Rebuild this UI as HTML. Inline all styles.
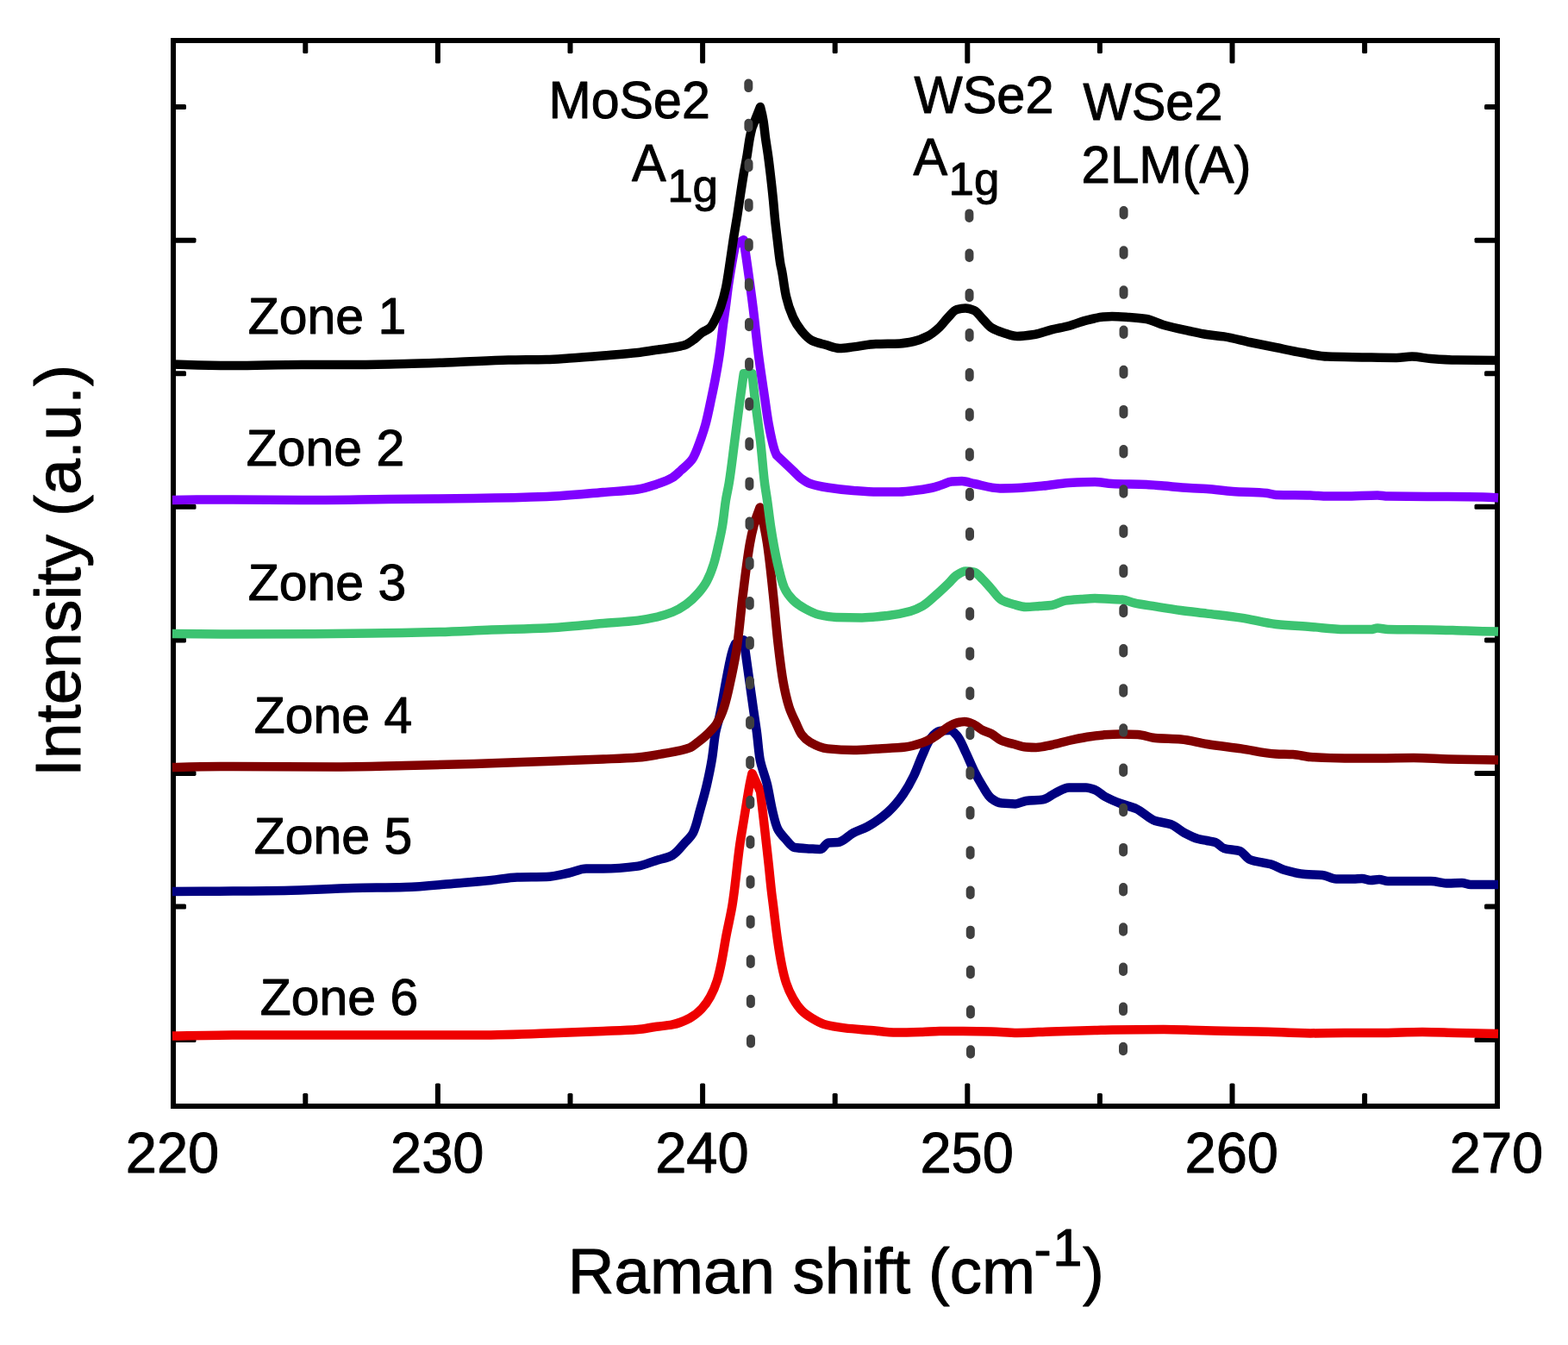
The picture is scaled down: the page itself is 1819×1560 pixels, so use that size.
<!DOCTYPE html>
<html lang="en"><head><meta charset="utf-8"><title>Raman spectra</title>
<style>html,body{margin:0;padding:0;background:#fff}svg{display:block}text{font-family:"Liberation Sans",Arial,Helvetica,sans-serif;fill:#000;stroke:#000;stroke-width:1px;stroke-linejoin:round;font-kerning:none;font-variant-ligatures:none;letter-spacing:0;white-space:pre}</style></head><body>
<svg width="1819" height="1560" viewBox="0 0 1819 1560">
<rect x="0" y="0" width="1819" height="1560" fill="#fff"/>
<g stroke="#000" stroke-width="6" fill="none">
<rect x="201" y="47" width="1536" height="1236"/>
</g>
<g fill="#000" stroke="none">
<rect x="351.30" y="1268.00" width="6" height="15.00" rx="1.6"/>
<rect x="351.30" y="47.00" width="6" height="15.00" rx="1.6"/>
<rect x="504.90" y="1256.50" width="6" height="26.50" rx="1.6"/>
<rect x="504.90" y="47.00" width="6" height="26.50" rx="1.6"/>
<rect x="658.50" y="1268.00" width="6" height="15.00" rx="1.6"/>
<rect x="658.50" y="47.00" width="6" height="15.00" rx="1.6"/>
<rect x="812.10" y="1256.50" width="6" height="26.50" rx="1.6"/>
<rect x="812.10" y="47.00" width="6" height="26.50" rx="1.6"/>
<rect x="965.70" y="1268.00" width="6" height="15.00" rx="1.6"/>
<rect x="965.70" y="47.00" width="6" height="15.00" rx="1.6"/>
<rect x="1119.30" y="1256.50" width="6" height="26.50" rx="1.6"/>
<rect x="1119.30" y="47.00" width="6" height="26.50" rx="1.6"/>
<rect x="1272.90" y="1268.00" width="6" height="15.00" rx="1.6"/>
<rect x="1272.90" y="47.00" width="6" height="15.00" rx="1.6"/>
<rect x="1426.50" y="1256.50" width="6" height="26.50" rx="1.6"/>
<rect x="1426.50" y="47.00" width="6" height="26.50" rx="1.6"/>
<rect x="1580.10" y="1268.00" width="6" height="15.00" rx="1.6"/>
<rect x="1580.10" y="47.00" width="6" height="15.00" rx="1.6"/>
<rect x="201.00" y="1203.10" width="26.50" height="6" rx="1.6"/>
<rect x="1710.50" y="1203.10" width="26.50" height="6" rx="1.6"/>
<rect x="201.00" y="1048.53" width="15.00" height="6" rx="1.6"/>
<rect x="1722.00" y="1048.53" width="15.00" height="6" rx="1.6"/>
<rect x="201.00" y="893.96" width="26.50" height="6" rx="1.6"/>
<rect x="1710.50" y="893.96" width="26.50" height="6" rx="1.6"/>
<rect x="201.00" y="739.39" width="15.00" height="6" rx="1.6"/>
<rect x="1722.00" y="739.39" width="15.00" height="6" rx="1.6"/>
<rect x="201.00" y="584.82" width="26.50" height="6" rx="1.6"/>
<rect x="1710.50" y="584.82" width="26.50" height="6" rx="1.6"/>
<rect x="201.00" y="430.25" width="15.00" height="6" rx="1.6"/>
<rect x="1722.00" y="430.25" width="15.00" height="6" rx="1.6"/>
<rect x="201.00" y="275.68" width="26.50" height="6" rx="1.6"/>
<rect x="1710.50" y="275.68" width="26.50" height="6" rx="1.6"/>
<rect x="201.00" y="121.11" width="15.00" height="6" rx="1.6"/>
<rect x="1722.00" y="121.11" width="15.00" height="6" rx="1.6"/>
</g>
<g fill="none" stroke-width="10.5" stroke-linejoin="round" stroke-linecap="butt">
<path stroke="#ee0000" d="M200.00,1201.50 C223.33,1201.14 246.67,1200.60 270.00,1200.60 C363.33,1200.60 456.68,1200.60 550.00,1200.60 C578.00,1200.60 606.01,1199.44 634.00,1198.60 C656.01,1197.94 678.01,1196.98 700.00,1196.00 C713.34,1195.41 726.74,1195.05 740.00,1194.00 C746.70,1193.47 753.32,1191.93 760.00,1191.00 C766.66,1190.07 773.52,1189.66 780.00,1188.40 C786.85,1187.07 793.94,1184.19 800.00,1181.00 C805.06,1178.34 810.04,1174.17 814.00,1170.00 C817.83,1165.97 821.31,1160.95 824.00,1156.00 C827.22,1150.07 830.00,1143.50 832.00,1137.00 C834.09,1130.19 835.55,1123.04 837.00,1116.00 C839.11,1105.73 840.56,1095.31 842.50,1085.00 C844.70,1073.31 847.59,1061.73 849.50,1050.00 C850.26,1045.35 850.88,1040.67 851.50,1036.00 C853.97,1017.37 855.60,998.61 858.20,980.00 C859.56,970.31 861.33,960.67 862.90,951.00 C864.03,944.00 865.14,937.00 866.30,930.00 C867.41,923.33 868.43,916.64 869.70,910.00 C870.53,905.65 871.49,901.32 872.50,897.00 L882.10,918.00 C882.57,922.00 883.04,926.00 883.50,930.00 C885.43,946.66 887.33,963.33 889.20,980.00 C890.04,987.50 890.89,995.00 891.70,1002.50 C892.90,1013.66 893.90,1024.85 895.20,1036.00 C895.75,1040.67 896.41,1045.33 897.00,1050.00 C898.69,1063.33 900.09,1076.71 902.00,1090.00 C903.44,1100.03 904.99,1110.09 907.00,1120.00 C908.36,1126.72 909.91,1133.53 912.00,1140.00 C914.00,1146.18 916.85,1152.35 920.00,1158.00 C922.75,1162.93 926.12,1168.05 930.00,1172.00 C933.38,1175.44 937.78,1178.44 942.00,1181.00 C946.40,1183.68 951.13,1186.62 956.00,1188.00 C963.59,1190.16 971.95,1191.44 980.00,1192.40 C989.93,1193.59 1000.00,1194.13 1010.00,1195.00 C1020.00,1195.87 1029.98,1197.60 1040.00,1197.60 C1049.98,1197.60 1060.01,1197.29 1070.00,1197.00 C1076.67,1196.80 1083.33,1196.00 1090.00,1196.00 C1109.99,1196.00 1130.02,1196.14 1150.00,1196.40 C1160.01,1196.53 1170.00,1198.00 1180.00,1198.00 C1193.33,1198.00 1206.66,1196.84 1220.00,1196.40 C1236.66,1195.85 1253.33,1195.49 1270.00,1195.00 C1276.67,1194.81 1283.33,1194.48 1290.00,1194.40 C1310.00,1194.16 1330.00,1194.00 1350.00,1194.00 C1363.34,1194.00 1376.67,1194.67 1390.00,1195.00 C1403.33,1195.33 1416.67,1195.77 1430.00,1196.00 C1440.00,1196.17 1450.00,1196.22 1460.00,1196.40 C1480.01,1196.76 1499.99,1198.40 1520.00,1198.40 C1533.33,1198.40 1546.67,1198.00 1560.00,1198.00 C1573.33,1198.00 1586.67,1198.00 1600.00,1198.00 C1616.67,1198.00 1633.33,1197.00 1650.00,1197.00 C1663.33,1197.00 1676.67,1197.70 1690.00,1198.00 C1706.00,1198.36 1722.00,1198.70 1738.00,1199.00"/>
<path stroke="#000080" d="M200.00,1034.00 C223.33,1033.92 246.67,1033.77 270.00,1033.60 C290.00,1033.45 310.01,1033.31 330.00,1033.00 C356.68,1032.59 383.33,1030.60 410.00,1030.00 C429.99,1029.55 450.03,1029.55 470.00,1029.00 C490.03,1028.45 510.01,1026.02 530.00,1024.40 C543.34,1023.32 556.69,1022.34 570.00,1021.00 C580.02,1019.99 589.97,1017.62 600.00,1017.40 C611.29,1017.15 622.75,1017.26 634.00,1017.00 C642.73,1016.80 651.40,1014.27 660.00,1012.50 C666.72,1011.11 673.23,1007.50 680.00,1007.50 C686.57,1007.50 693.34,1007.50 700.00,1007.50 C713.35,1007.50 726.98,1006.26 740.00,1004.60 C746.80,1003.73 753.34,1000.50 760.00,998.40 C766.68,996.30 774.33,994.99 780.00,992.00 C785.35,989.18 789.57,982.87 794.00,978.00 C797.49,974.16 801.83,970.39 804.00,966.00 C807.78,958.35 809.51,948.71 812.00,940.00 C814.85,930.06 817.70,920.07 820.00,910.00 C822.27,900.07 824.39,890.05 826.00,880.00 C827.59,870.05 828.22,859.88 830.00,850.00 C830.97,844.62 832.81,839.36 834.00,834.00 C835.10,829.03 836.04,824.01 837.00,819.00 C839.10,808.02 840.82,796.96 843.00,786.00 C845.13,775.30 846.83,764.31 850.00,754.00 C850.79,751.44 851.98,748.97 853.10,746.50 L862.80,742.30 C864.26,752.87 865.73,763.43 867.20,774.00 C869.52,790.67 871.81,807.34 874.20,824.00 C875.44,832.67 876.87,841.32 878.00,850.00 C879.30,859.98 879.87,870.16 881.50,880.00 C883.19,890.16 887.63,899.90 890.00,910.00 C892.33,919.91 893.64,930.10 896.00,940.00 C897.68,947.06 899.19,954.70 902.00,961.00 C904.11,965.73 908.33,970.04 912.00,974.00 C915.01,977.24 918.21,982.35 922.00,983.00 C927.09,983.87 933.99,984.04 940.00,984.40 C944.00,984.64 948.53,985.00 952.00,985.00 C955.40,985.00 957.59,977.67 961.00,977.40 C964.18,977.15 968.59,977.23 972.00,977.00 C978.53,976.56 983.78,969.17 990.00,966.00 C995.15,963.37 1000.95,961.71 1006.00,959.00 C1014.50,954.43 1022.91,948.44 1030.00,942.00 C1036.67,935.94 1042.82,928.48 1048.00,921.00 C1052.53,914.46 1056.50,907.21 1060.00,900.00 C1063.76,892.25 1066.41,883.87 1070.00,876.00 C1073.09,869.23 1075.65,861.40 1080.00,856.00 C1082.49,852.91 1086.26,848.62 1090.00,848.00 C1093.52,847.42 1098.45,847.00 1102.00,847.00 C1104.95,847.00 1107.97,850.67 1110.00,853.00 C1114.35,858.00 1116.86,865.58 1120.00,872.00 C1123.53,879.23 1126.39,886.82 1130.00,894.00 C1133.07,900.12 1136.36,906.22 1140.00,912.00 C1143.04,916.83 1145.90,922.85 1150.00,926.00 C1153.16,928.42 1157.81,931.20 1162.00,931.60 C1167.07,932.09 1172.77,932.40 1178.00,932.40 C1182.07,932.40 1185.93,929.54 1190.00,929.00 C1196.54,928.14 1203.75,928.34 1210.00,927.40 C1214.93,926.66 1219.23,922.22 1224.00,920.00 C1229.21,917.57 1234.46,913.40 1240.00,913.40 C1246.40,913.40 1253.45,913.40 1260.00,913.40 C1263.38,913.40 1266.91,914.83 1270.00,916.00 C1274.32,917.63 1277.82,921.73 1282.00,924.00 C1287.71,927.10 1293.89,929.67 1300.00,932.00 C1305.89,934.25 1312.33,935.52 1318.00,938.00 C1325.79,941.41 1332.10,949.38 1340.00,952.00 C1345.59,953.85 1352.42,954.11 1358.00,956.00 C1363.71,957.93 1368.46,963.13 1374.00,966.00 C1379.13,968.65 1384.47,971.51 1390.00,973.00 C1393.23,973.87 1396.67,974.33 1400.00,975.00 C1403.33,975.67 1406.96,976.02 1410.00,977.00 C1413.64,978.17 1416.38,982.92 1420.00,984.00 C1425.41,985.61 1432.76,985.38 1438.00,987.00 C1442.48,988.38 1445.57,995.19 1450.00,997.00 C1457.56,1000.09 1467.61,1000.39 1476.00,1003.00 C1480.79,1004.49 1485.20,1007.60 1490.00,1009.00 C1497.73,1011.25 1505.92,1013.36 1514.00,1014.00 C1520.60,1014.52 1527.45,1014.43 1534.00,1015.00 C1539.42,1015.48 1544.57,1019.40 1550.00,1019.40 C1556.54,1019.40 1563.34,1019.40 1570.00,1019.40 C1573.33,1019.40 1576.70,1019.00 1580.00,1019.00 C1583.36,1019.00 1586.64,1021.00 1590.00,1021.00 C1593.31,1021.00 1596.69,1020.00 1600.00,1020.00 C1603.36,1020.00 1606.64,1022.00 1610.00,1022.00 C1626.47,1022.00 1643.41,1022.00 1660.00,1022.00 C1666.69,1022.00 1673.31,1024.60 1680.00,1024.60 C1685.31,1024.60 1690.72,1024.00 1696.00,1024.00 C1699.36,1024.00 1702.64,1026.00 1706.00,1026.00 C1716.54,1026.00 1727.18,1026.00 1738.00,1026.00"/>
<path stroke="#800000" d="M200.00,890.00 C223.33,889.52 246.67,889.00 270.00,889.00 C310.00,889.00 350.00,889.40 390.00,889.40 C416.67,889.40 443.34,888.55 470.00,888.00 C496.67,887.45 523.34,886.78 550.00,886.00 C578.00,885.18 606.00,884.03 634.00,883.00 C656.00,882.19 678.01,881.46 700.00,880.50 C713.34,879.92 726.74,879.52 740.00,878.50 C750.05,877.73 760.07,875.78 770.00,874.00 C780.07,872.19 790.94,870.74 800.00,867.30 C803.57,865.95 806.78,862.90 810.00,860.50 C812.75,858.45 815.46,856.29 818.00,854.00 C820.79,851.49 823.47,848.78 826.00,846.00 C827.74,844.08 829.65,842.14 831.00,840.00 C834.79,833.98 837.76,826.86 840.00,820.00 C843.16,810.33 845.23,800.06 847.40,790.00 C850.26,776.75 853.06,763.40 855.00,750.00 C857.87,730.12 859.33,709.97 861.80,690.00 C864.28,669.97 866.52,649.83 870.00,630.00 C871.18,623.29 872.66,616.57 874.40,610.00 C876.33,602.73 878.79,595.55 881.60,588.50 C884.88,602.26 887.90,616.08 890.00,630.00 C892.99,649.86 894.84,669.98 897.00,690.00 C899.15,709.98 900.68,730.04 903.00,750.00 C904.55,763.36 906.11,776.79 908.40,790.00 C910.15,800.08 912.39,810.31 915.40,820.00 C917.53,826.85 920.94,833.43 924.00,840.00 C925.89,844.05 927.50,848.58 930.00,852.00 C932.50,855.43 936.31,858.90 940.00,861.00 C945.84,864.33 953.14,867.72 960.00,868.40 C969.67,869.36 980.00,870.00 990.00,870.00 C1000.00,870.00 1010.00,868.98 1020.00,868.40 C1030.00,867.82 1040.15,867.54 1050.00,866.50 C1056.76,865.78 1063.56,863.65 1070.00,861.50 C1073.43,860.36 1076.80,858.71 1080.00,857.00 C1083.48,855.14 1086.74,852.77 1090.00,850.50 C1093.41,848.12 1096.45,845.05 1100.00,843.00 C1103.13,841.20 1106.52,839.21 1110.00,838.40 C1112.88,837.73 1116.05,837.00 1119.00,837.00 C1122.74,837.00 1126.57,839.00 1130.00,840.50 C1133.55,842.05 1136.49,845.25 1140.00,847.00 C1143.17,848.58 1146.84,849.42 1150.00,851.00 C1154.23,853.12 1157.71,857.23 1162.00,859.00 C1166.33,860.78 1171.31,861.75 1176.00,863.00 C1180.65,864.24 1185.26,866.17 1190.00,866.50 C1193.94,866.78 1198.02,867.00 1202.00,867.00 C1208.04,867.00 1214.05,865.19 1220.00,864.00 C1226.72,862.66 1233.30,860.49 1240.00,859.00 C1246.63,857.53 1253.30,856.06 1260.00,855.00 C1266.63,853.95 1273.31,852.85 1280.00,852.40 C1286.64,851.96 1293.33,851.50 1300.00,851.50 C1306.66,851.50 1313.40,851.71 1320.00,852.00 C1326.73,852.30 1333.28,855.47 1340.00,856.00 C1349.90,856.78 1360.08,856.66 1370.00,857.40 C1380.08,858.16 1389.96,861.41 1400.00,863.00 C1413.28,865.10 1426.68,866.51 1440.00,868.40 C1453.35,870.30 1466.59,873.77 1480.00,874.40 C1486.64,874.71 1493.37,874.67 1500.00,875.00 C1506.70,875.34 1513.30,877.59 1520.00,878.00 C1533.26,878.81 1546.66,879.40 1560.00,879.40 C1573.33,879.40 1586.67,879.40 1600.00,879.40 C1613.33,879.40 1626.67,879.00 1640.00,879.00 C1653.34,879.00 1666.66,880.05 1680.00,880.40 C1699.33,880.91 1718.66,881.36 1738.00,881.60"/>
<path stroke="#3cc371" d="M200.00,735.00 C223.33,735.31 246.67,735.60 270.00,735.60 C323.33,735.60 376.67,735.14 430.00,734.60 C456.67,734.33 483.34,733.72 510.00,733.00 C530.01,732.46 550.00,731.30 570.00,730.60 C591.33,729.85 612.70,729.57 634.00,728.60 C656.03,727.60 678.00,724.87 700.00,723.00 C713.33,721.87 726.76,721.20 740.00,719.60 C746.70,718.79 753.42,717.48 760.00,716.00 C766.76,714.48 773.65,712.54 780.00,710.00 C785.58,707.77 791.13,704.48 796.00,701.00 C801.07,697.37 805.88,692.73 810.00,688.00 C813.71,683.74 817.38,678.96 820.00,674.00 C823.28,667.79 825.90,660.81 828.00,654.00 C830.01,647.48 831.47,640.70 833.00,634.00 C834.82,626.04 836.68,618.05 838.00,610.00 C839.63,600.06 840.42,589.95 842.00,580.00 C843.06,573.31 844.72,566.69 845.80,560.00 C848.36,544.08 850.09,528.00 852.20,512.00 C854.39,495.34 856.42,478.65 858.70,462.00 C860.01,452.43 861.39,442.86 862.80,433.30 L872.50,433.30 C873.50,442.87 874.56,452.44 875.70,462.00 C877.69,478.69 880.31,495.30 882.20,512.00 C884.00,527.97 885.03,544.06 887.00,560.00 C887.83,566.68 889.05,573.33 890.00,580.00 C891.42,589.99 892.52,600.03 894.00,610.00 C895.19,618.02 896.52,626.03 898.00,634.00 C899.49,642.03 901.07,650.08 903.00,658.00 C904.97,666.08 906.78,674.70 910.00,682.00 C912.22,687.03 916.11,692.11 920.00,696.00 C923.89,699.89 929.06,703.28 934.00,706.00 C939.02,708.76 944.47,711.73 950.00,713.00 C956.41,714.48 963.30,715.83 970.00,716.00 C979.94,716.26 990.02,716.40 1000.00,716.40 C1010.02,716.40 1020.08,715.13 1030.00,714.00 C1038.73,713.00 1047.64,711.33 1056.00,709.00 C1060.81,707.66 1065.71,705.43 1070.00,703.00 C1075.81,699.71 1080.82,694.50 1086.00,690.00 C1090.80,685.83 1095.42,681.42 1100.00,677.00 C1103.39,673.73 1106.23,669.45 1110.00,667.00 C1112.93,665.09 1116.52,662.40 1120.00,662.40 C1123.19,662.40 1127.08,662.94 1130.00,663.60 C1133.78,664.45 1136.88,669.01 1140.00,672.00 C1143.55,675.41 1146.65,679.35 1150.00,683.00 C1153.98,687.35 1157.33,693.31 1162.00,696.00 C1165.93,698.26 1171.25,699.72 1176.00,701.00 C1180.58,702.23 1185.29,704.00 1190.00,704.00 C1195.28,704.00 1200.67,703.36 1206.00,703.00 C1210.67,702.69 1215.45,702.53 1220.00,702.00 C1225.47,701.36 1230.53,697.39 1236.00,696.60 C1241.85,695.76 1247.99,695.44 1254.00,695.00 C1259.33,694.61 1264.66,694.00 1270.00,694.00 C1276.66,694.00 1283.33,694.74 1290.00,695.00 C1294.00,695.16 1298.07,695.17 1302.00,695.40 C1306.76,695.68 1311.28,698.38 1316.00,699.40 C1323.89,701.10 1331.99,702.12 1340.00,703.40 C1349.99,705.00 1359.98,706.65 1370.00,708.00 C1379.98,709.34 1390.00,710.38 1400.00,711.60 C1413.34,713.23 1426.73,714.62 1440.00,716.60 C1453.39,718.60 1466.57,722.56 1480.00,724.00 C1493.24,725.42 1506.67,726.00 1520.00,727.00 C1533.33,728.00 1546.65,730.00 1560.00,730.00 C1569.99,730.00 1580.09,730.00 1590.00,730.00 C1592.68,730.00 1595.32,728.60 1598.00,728.60 C1601.98,728.60 1605.99,729.93 1610.00,730.00 C1626.60,730.30 1643.34,730.18 1660.00,730.40 C1673.34,730.57 1686.67,731.23 1700.00,731.60 C1712.67,731.95 1725.33,732.29 1738.00,732.60"/>
<path stroke="#7f00ff" d="M200.00,580.00 C223.33,579.62 246.67,579.40 270.00,579.40 C296.67,579.40 323.33,580.00 350.00,580.00 C383.33,580.00 416.67,579.33 450.00,579.00 C483.33,578.67 516.67,578.48 550.00,578.00 C578.00,577.60 606.04,577.04 634.00,576.00 C656.03,575.18 678.01,572.80 700.00,571.00 C713.34,569.91 726.89,569.34 740.00,567.50 C746.76,566.55 753.48,564.31 760.00,562.20 C766.81,560.00 774.03,557.52 780.00,554.00 C783.63,551.86 786.78,548.45 790.00,545.50 C794.68,541.21 800.27,537.08 803.50,532.00 C807.17,526.22 809.50,518.78 812.00,512.00 C814.42,505.44 816.69,498.75 818.50,492.00 C821.15,482.14 823.07,472.02 825.20,462.00 C826.76,454.68 828.32,447.35 829.70,440.00 C831.44,430.70 833.14,421.36 834.50,412.00 C836.24,400.04 837.41,387.99 839.00,376.00 C839.89,369.33 840.91,362.67 841.80,356.00 C842.92,347.67 843.82,339.31 845.00,331.00 C846.19,322.65 847.57,314.31 849.00,306.00 C850.27,298.65 851.65,291.32 853.10,284.00 L862.60,278.30 C864.01,287.53 865.38,296.76 866.70,306.00 C869.07,322.65 871.41,339.31 873.50,356.00 C875.84,374.64 877.60,393.37 880.00,412.00 C882.15,428.70 884.75,445.34 887.20,462.00 C888.67,472.00 889.91,482.07 891.70,492.00 C893.52,502.07 895.44,512.33 898.50,522.00 C899.15,524.04 900.10,526.02 901.00,528.00 C904.17,531.00 907.33,534.00 910.50,537.00 C913.67,540.00 916.83,543.00 920.00,546.00 C923.17,549.00 926.05,552.49 929.50,555.00 C932.69,557.32 936.31,559.73 940.00,561.00 C946.25,563.15 953.28,564.44 960.00,565.50 C969.90,567.06 979.97,568.27 990.00,569.00 C999.97,569.73 1009.99,570.60 1020.00,570.60 C1026.66,570.60 1033.34,570.60 1040.00,570.60 C1046.68,570.60 1053.36,569.69 1060.00,569.00 C1066.69,568.30 1073.44,567.34 1080.00,566.00 C1084.05,565.17 1088.02,563.74 1092.00,562.50 C1096.02,561.25 1099.90,558.81 1104.00,558.50 C1107.90,558.21 1112.04,558.00 1116.00,558.00 C1120.72,558.00 1125.32,560.07 1130.00,561.00 C1139.96,562.97 1149.92,566.40 1160.00,566.40 C1166.62,566.40 1173.34,566.20 1180.00,566.00 C1190.02,565.69 1200.02,564.56 1210.00,563.60 C1220.02,562.64 1229.97,560.52 1240.00,560.00 C1249.97,559.48 1260.02,559.00 1270.00,559.00 C1276.68,559.00 1283.32,560.71 1290.00,561.00 C1303.30,561.57 1316.69,561.46 1330.00,562.00 C1336.68,562.27 1343.33,563.07 1350.00,563.60 C1360.00,564.40 1369.99,565.39 1380.00,566.00 C1386.66,566.40 1393.34,566.57 1400.00,567.00 C1410.02,567.65 1419.98,569.32 1430.00,570.00 C1443.31,570.90 1456.81,570.80 1470.00,572.00 C1473.36,572.31 1476.64,573.89 1480.00,574.00 C1493.18,574.45 1506.68,574.27 1520.00,574.60 C1526.67,574.76 1533.33,575.60 1540.00,575.60 C1546.66,575.60 1553.33,575.60 1560.00,575.60 C1572.67,575.60 1585.37,574.40 1598.00,574.40 C1602.01,574.40 1605.99,575.55 1610.00,575.60 C1633.26,575.92 1656.67,575.80 1680.00,576.00 C1693.33,576.12 1706.67,576.28 1720.00,576.60 C1726.00,576.74 1732.00,577.08 1738.00,577.40"/>
<path stroke="#000000" d="M200.00,422.50 C223.33,423.37 246.66,424.00 270.00,424.00 C296.66,424.00 323.33,423.00 350.00,423.00 C370.00,423.00 390.00,423.00 410.00,423.00 C430.00,423.00 450.00,422.44 470.00,422.00 C490.00,421.56 510.00,420.73 530.00,420.00 C550.00,419.27 569.99,418.00 590.00,417.60 C604.66,417.31 619.35,417.34 634.00,417.00 C642.67,416.80 651.34,416.06 660.00,415.50 C673.34,414.64 686.67,413.58 700.00,412.50 C713.34,411.42 726.72,410.51 740.00,409.00 C746.69,408.24 753.33,406.95 760.00,406.00 C766.66,405.05 773.37,404.39 780.00,403.30 C783.35,402.75 786.70,402.09 790.00,401.30 C792.02,400.82 794.13,400.33 796.00,399.60 C799.60,398.19 802.84,395.40 806.00,393.00 C808.80,390.87 811.16,388.05 814.00,386.00 C817.11,383.75 821.50,382.50 824.00,380.00 C826.50,377.50 828.26,373.44 830.00,370.00 C832.28,365.50 834.38,360.77 836.00,356.00 C838.43,348.86 840.46,341.41 842.00,334.00 C843.65,326.09 844.74,318.01 846.00,310.00 C847.77,298.68 849.23,287.32 851.00,276.00 C852.26,267.99 853.74,260.01 855.00,252.00 C856.05,245.34 856.98,238.66 858.00,232.00 C859.63,221.33 861.19,210.64 863.00,200.00 C864.14,193.32 865.57,186.68 866.70,180.00 C867.82,173.35 868.56,166.62 869.80,160.00 C870.55,155.98 871.50,151.98 872.50,148.00 L882.00,124.00 C883.39,129.30 884.64,134.63 885.50,140.00 C886.56,146.61 887.09,153.34 888.00,160.00 C888.91,166.68 890.09,173.32 891.00,180.00 C891.91,186.66 892.72,193.33 893.50,200.00 C894.75,210.66 895.95,221.32 897.00,232.00 C897.72,239.33 898.26,246.68 899.00,254.00 C899.88,262.68 900.95,271.34 902.00,280.00 C903.05,288.67 903.87,297.40 905.30,306.00 C905.75,308.68 906.49,311.32 907.00,314.00 C908.90,323.95 909.79,334.20 912.00,344.00 C913.84,352.15 916.62,360.47 920.00,368.00 C922.52,373.62 926.11,379.28 930.00,384.00 C933.36,388.07 937.49,392.75 942.00,395.00 C946.65,397.32 952.62,398.51 958.00,400.00 C963.29,401.47 968.60,404.00 974.00,404.00 C979.27,404.00 984.68,403.00 990.00,402.40 C998.68,401.43 1007.30,399.32 1016.00,399.00 C1025.29,398.65 1034.72,398.77 1044.00,398.40 C1049.36,398.18 1054.81,397.12 1060.00,396.00 C1065.48,394.82 1071.08,392.52 1076.00,390.00 C1081.03,387.42 1085.80,383.41 1090.00,379.50 C1093.65,376.10 1096.45,371.60 1100.00,368.00 C1103.13,364.82 1106.17,360.11 1110.00,359.00 C1112.88,358.16 1116.70,357.40 1120.00,357.40 C1123.37,357.40 1127.16,358.75 1130.00,360.00 C1133.88,361.71 1136.67,366.67 1140.00,370.00 C1143.33,373.33 1146.24,377.61 1150.00,380.00 C1154.05,382.58 1159.21,384.47 1164.00,386.00 C1169.19,387.66 1174.60,390.00 1180.00,390.00 C1186.58,390.00 1193.44,388.97 1200.00,388.00 C1206.78,387.00 1213.29,384.06 1220.00,382.40 C1226.62,380.77 1233.42,379.72 1240.00,378.00 C1246.75,376.24 1253.24,373.27 1260.00,371.60 C1266.57,369.98 1273.27,368.19 1280.00,367.60 C1283.31,367.31 1286.67,367.00 1290.00,367.00 C1296.66,367.00 1303.35,367.56 1310.00,368.00 C1316.68,368.45 1323.51,368.98 1330.00,370.00 C1336.84,371.08 1343.24,375.08 1350.00,377.00 C1359.83,379.80 1369.96,381.85 1380.00,384.00 C1386.65,385.42 1393.29,386.99 1400.00,388.00 C1406.63,388.99 1413.38,389.39 1420.00,390.40 C1430.09,391.94 1439.98,394.90 1450.00,397.00 C1459.98,399.09 1470.00,401.00 1480.00,403.00 C1490.00,405.00 1499.96,407.26 1510.00,409.00 C1519.96,410.73 1529.95,413.23 1540.00,413.60 C1553.25,414.09 1566.67,414.17 1580.00,414.40 C1593.33,414.63 1606.69,415.00 1620.00,415.00 C1626.01,415.00 1632.01,413.60 1638.00,413.60 C1645.34,413.60 1652.65,415.46 1660.00,416.00 C1669.98,416.73 1679.99,417.45 1690.00,417.60 C1705.99,417.84 1721.99,418.00 1738.00,418.00"/>
</g>
<g stroke="#404040" stroke-width="10" stroke-linecap="round" fill="none" stroke-dasharray="5.5 40.68">
<line x1="868.3" y1="96.6" x2="871" y2="1211"/>
<line x1="1124.4" y1="247.4" x2="1126" y2="1223"/>
<line x1="1303.6" y1="244" x2="1303" y2="1220"/>
</g>
<text transform="translate(200.00,1360.00) scale(0.9709,1)" font-size="66.95" text-anchor="middle">220</text>
<text transform="translate(507.20,1360.00) scale(0.9709,1)" font-size="66.95" text-anchor="middle">230</text>
<text transform="translate(814.40,1360.00) scale(0.9709,1)" font-size="66.95" text-anchor="middle">240</text>
<text transform="translate(1121.60,1360.00) scale(0.9709,1)" font-size="66.95" text-anchor="middle">250</text>
<text transform="translate(1428.80,1360.00) scale(0.9709,1)" font-size="66.95" text-anchor="middle">260</text>
<text transform="translate(1736.00,1360.00) scale(0.9709,1)" font-size="66.95" text-anchor="middle">270</text>
<text transform="translate(658.70,1500.00) scale(1.0066,1)" font-size="74.03" text-anchor="start">Raman shift (cm<tspan font-size="60.00" dy="-31" dx="-1.5">-</tspan><tspan font-size="61.20" dy="-1" dx="1.5">1</tspan><tspan dy="32" dx="0.5">)</tspan></text>
<text transform="translate(92.70,662.00) rotate(-90) scale(1.0198,1)" font-size="74.03" text-anchor="middle">Intensity (a.u.)</text>
<text transform="translate(287.80,387.20) scale(0.9900,1)" font-size="59.50" text-anchor="start">Zone 1</text>
<text transform="translate(285.80,540.20) scale(0.9900,1)" font-size="59.50" text-anchor="start">Zone 2</text>
<text transform="translate(287.80,695.80) scale(0.9900,1)" font-size="59.50" text-anchor="start">Zone 3</text>
<text transform="translate(294.80,849.80) scale(0.9900,1)" font-size="59.50" text-anchor="start">Zone 4</text>
<text transform="translate(294.80,990.20) scale(0.9900,1)" font-size="59.50" text-anchor="start">Zone 5</text>
<text transform="translate(301.80,1176.80) scale(0.9900,1)" font-size="59.50" text-anchor="start">Zone 6</text>
<text transform="translate(636.50,137.40) scale(0.9740,1)" font-size="60.69" text-anchor="start">MoSe2</text>
<text transform="translate(733.00,209.60) scale(0.9804,1)" font-size="60.69" text-anchor="start">A<tspan font-size="54.06" dy="24" dx="1.5">1g</tspan></text>
<text transform="translate(1060.50,130.80) scale(0.9804,1)" font-size="60.69" text-anchor="start">WSe2</text>
<text transform="translate(1059.40,202.60) scale(0.9804,1)" font-size="60.69" text-anchor="start">A<tspan font-size="54.06" dy="23" dx="1.5">1g</tspan></text>
<text transform="translate(1256.50,139.40) scale(0.9804,1)" font-size="60.69" text-anchor="start">WSe2</text>
<text transform="translate(1254.50,212.00) scale(0.9806,1)" font-size="61.29" text-anchor="start">2LM(A)</text>
</svg></body></html>
